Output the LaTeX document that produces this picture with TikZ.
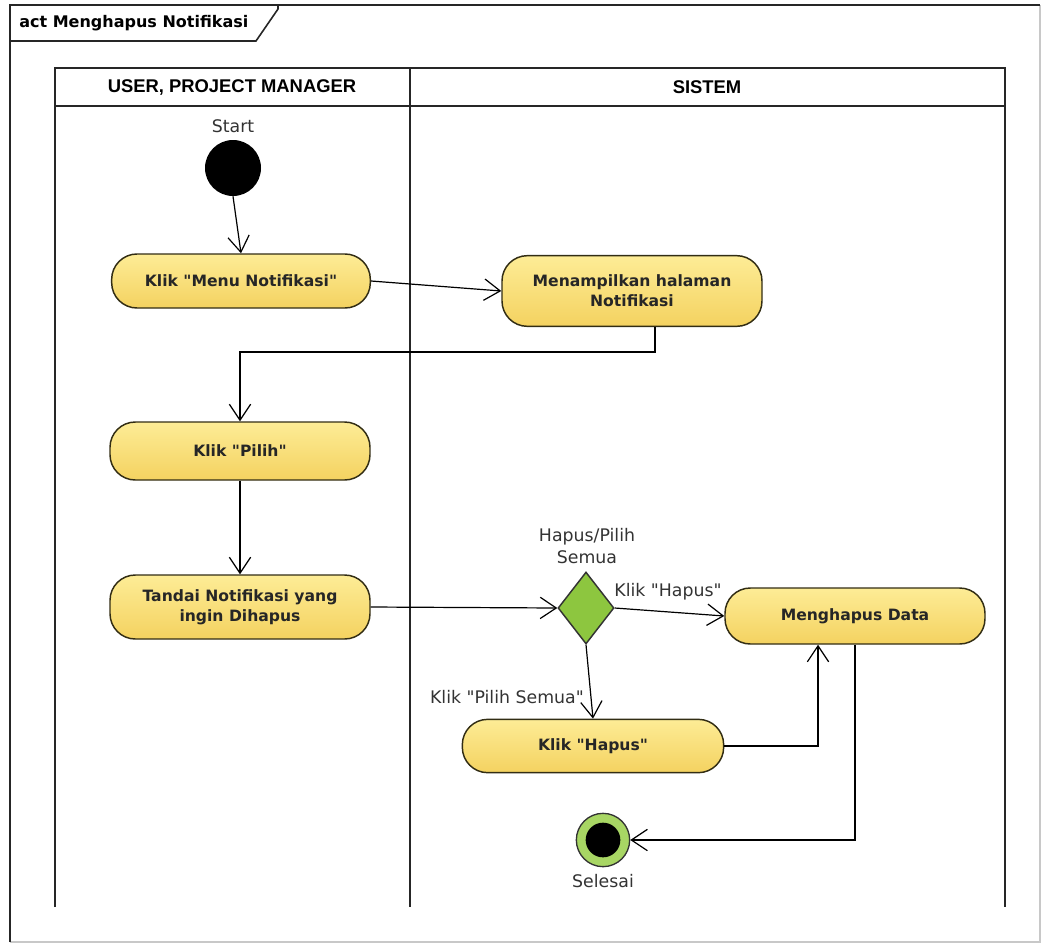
\documentclass[tikz,border=0pt]{standalone}
\usepackage{fontspec}
\setmainfont{DejaVu Sans}[Ligatures=TeXOff]
\newfontfamily\hdrfont{Liberation Sans}[Ligatures=TeXOff]
\usetikzlibrary{arrows.meta,shapes.geometric,calc}
\newcommand{\dq}{\symbol{34}}
\definecolor{nodeTop}{RGB}{253,236,150}
\definecolor{nodeBot}{RGB}{244,210,96}
\definecolor{nodeLine}{RGB}{50,45,20}
\definecolor{decGreen}{RGB}{141,198,63}
\definecolor{endGreen}{RGB}{168,214,100}
\definecolor{frameGray}{RGB}{200,200,200}
\tikzset{
  arr/.style={line width=0.9pt,-{Straight Barb[length=12pt,width=16pt,line width=0.9pt]}},
  act/.style={draw=nodeLine,line width=1.1pt,rounded corners=19pt,top color=nodeTop,bottom color=nodeBot,
    font=\bfseries\fontsize{11.7}{15}\selectfont,align=center,inner sep=0pt,text=black!85},
  lbl/.style={font=\fontsize{13}{16}\selectfont,text=black!80,inner sep=0pt},
  lane/.style={line width=1.4pt,draw=black!85},
}
\begin{document}
\begin{tikzpicture}[x=0.75pt,y=-0.75pt]
\useasboundingbox (0,0) rectangle (1049,950);
% outer frame
\draw[frameGray,line width=0.8pt] (1040,5) -- (1040,942) -- (10,942);
\draw[black!85,line width=1.2pt] (10,942) -- (10,5) -- (1040,5);
\draw[black!85,line width=1.2pt] (278,5) -- (278,9) -- (256,41) -- (10,41);
\node[anchor=west,font=\bfseries\fontsize{12}{14}\selectfont,inner sep=0pt] (title) at (19,23) {act Menghapus Notifikasi};
% swimlanes
\draw[lane] (55,907) -- (55,68) -- (1005,68) -- (1005,907);
\draw[lane] (55,106) -- (1005,106);
\draw[lane] (410,68) -- (410,907);
\node[font=\hdrfont\bfseries\fontsize{13.8}{15}\selectfont,inner sep=0pt] (h1) at (232,87) {USER, PROJECT MANAGER};
\node[font=\hdrfont\bfseries\fontsize{13.8}{15}\selectfont,inner sep=0pt] (h2) at (707,87) {SISTEM};
% start
\node[lbl] (startlbl) at (233,126) {Start};
\node[circle,fill=black,minimum size=42pt,inner sep=0pt] (s) at (233,168) {};
% activities
\node[act,minimum width=194pt,minimum height=40.5pt] (n1) at (241,281) {Klik \dq Menu Notifikasi\dq};
\node[act,minimum width=195pt,minimum height=53pt] (n2) at (632,291) {Menampilkan halaman\\Notifikasi};
\node[act,minimum width=195pt,minimum height=43.5pt] (n3) at (240,451) {Klik \dq Pilih\dq};
\node[act,minimum width=195pt,minimum height=48pt] (n4) at (240,607) {Tandai Notifikasi yang\\ingin Dihapus};
\node[act,minimum width=195pt,minimum height=42pt] (n5) at (855,616) {Menghapus Data};
\node[act,minimum width=196pt,minimum height=40pt] (n6) at (593,746) {Klik \dq Hapus\dq};
% decision
\node[diamond,draw=black!80,line width=1.1pt,fill=decGreen,minimum width=42pt,minimum height=54pt,inner sep=0pt] (d) at (586,608) {};
\node[lbl,align=center,font=\fontsize{13}{16.5}\selectfont] (dlbl) at (587,546) {Hapus/Pilih\\Semua};
% end
\node[circle,draw=black!80,line width=1pt,fill=endGreen,minimum size=40pt,inner sep=0pt] (e) at (603,840) {};
\node[circle,fill=black,minimum size=26pt,inner sep=0pt] (ei) at (603,840) {};
\node[lbl] (endlbl) at (603,881) {Selesai};
% connectors
\draw[arr] (s.south) -- (n1.north);
\draw[arr] (n1.east) -- (n2.west);
\coordinate (a1) at (655,352);
\draw[arr] (n2.south -| a1) -- (a1) -| (n3.north);
\draw[arr] (n3.south) -- (n4.north);
\draw[arr] (n4.east) -- (d.west);
\draw[arr] (d.east) -- (n5.west);
\node[lbl] (l1) at (668,592) {Klik \dq Hapus\dq};
\draw[arr] (d.south) -- (n6.north);
\node[lbl,anchor=east] (l2) at (584,697) {Klik \dq Pilih Semua\dq};
\coordinate (b1) at (818,616);
\draw[arr] (n6.east) -| (n5.south -| b1);
\draw[arr] (n5.south) |- (e.east);
\end{tikzpicture}
\end{document}
